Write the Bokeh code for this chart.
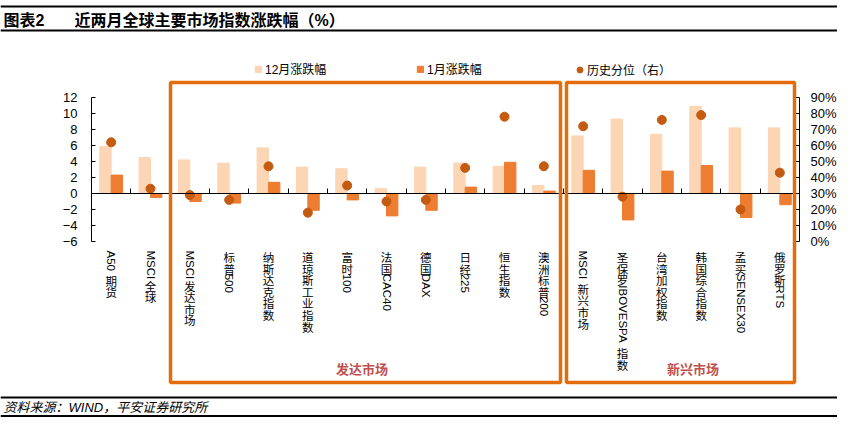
import math
from bokeh.plotting import figure
from bokeh.models import (Range1d, LinearAxis, FixedTicker, PrintfTickFormatter, ColumnDataSource,
                          LabelSet, Label, BoxAnnotation, Legend, LegendItem, CustomJSTickFormatter)
from bokeh.transform import dodge
from bokeh.core.properties import value
from bokeh.embed import file_html
from bokeh.resources import INLINE

# ---------------- data ----------------
categories = ["A50 期货", "MSCI全球", "MSCI发达市场", "标普500", "纳斯达克指数", "道琼斯工业指数",
              "富时100", "法国CAC40", "德国DAX", "日经225", "恒生指数", "澳洲标普200",
              "MSCI 新兴市场", "圣保罗IBOVESPA 指数", "台湾加权指数", "韩国综合指数", "孟买SENSEX30", "俄罗斯RTS"]
dec_change = [5.9, 4.5, 4.2, 3.8, 5.7, 3.3, 3.1, 0.6, 3.3, 3.8, 3.4, 1.0, 7.2, 9.3, 7.4, 10.9, 8.2, 8.2]
jan_change = [2.3, -0.5, -1.0, -1.2, 1.4, -2.1, -0.8, -2.8, -2.1, 0.8, 3.9, 0.3, 2.9, -3.3, 2.8, 3.5, -3.0, -1.4]
hist_pct = [62, 33, 29, 26, 47, 18, 35, 25, 26, 46, 78, 47, 72, 28, 76, 79, 20, 43]
left_ticks = [-6, -4, -2, 0, 2, 4, 6, 8, 10, 12]
right_ticks = [0, 10, 20, 30, 40, 50, 60, 70, 80, 90]
group_names = ["发达市场", "新兴市场"]
legend_labels = ["12月涨跌幅", "1月涨跌幅", "历史分位（右）"]
title_no = "图表2"
title_text = "近两月全球主要市场指数涨跌幅（%）"
source_text = "资料来源：WIND，平安证券研究所"

# ---------------- styling / geometry ----------------
C_LIGHT = "#FCD5B5"
C_DARK = "#ED7D31"
C_DOT = "#C55A11"
C_BOX = "#E46C0A"
C_GRP = "#C0504D"
LATIN = "Liberation Sans"
CJK = "Noto Sans CJK SC"
MIX = "Liberation Sans, Noto Sans CJK SC"

W, H = 837, 417
AX_L, AX_R, AX_T, AX_B = 91, 799, 97, 241      # plot area in pixels

n = len(categories)
pxu = (AX_R - AX_L) / n                         # pixels per category
lo, hi = left_ticks[0], left_ticks[-1]
pyu = (AX_B - AX_T) / (hi - lo)                 # pixels per unit (left)
rlo, rhi = right_ticks[0], right_ticks[-1]
pyr = (AX_B - AX_T) / (rhi - rlo)               # pixels per unit (right)


def dx(px):
    return (px - AX_L) / pxu


def dy(py):
    return hi - (py - AX_T) / pyu


idx = [i + 0.5 for i in range(n)]

p = figure(width=W, height=H, output_backend="svg", toolbar_location=None,
           x_range=Range1d(dx(0), dx(W)), y_range=Range1d(dy(H), dy(0)),
           min_border=0, min_border_left=0, min_border_right=0, min_border_top=0, min_border_bottom=0)
p.outline_line_color = None
p.xgrid.grid_line_color = None
p.ygrid.grid_line_color = None
p.background_fill_color = "white"
p.border_fill_color = "white"

p.extra_y_ranges = {"pct": Range1d(rlo - (H - AX_B) / pyr, rhi + AX_T / pyr)}

# left axis
ya = p.yaxis[0]
ya.fixed_location = 0
ya.bounds = (lo, hi)
ya.ticker = FixedTicker(ticks=left_ticks)
ya.major_tick_in = 4
ya.major_tick_out = 0
ya.minor_tick_line_color = None
ya.major_label_standoff = 14
ya.major_label_text_font = LATIN
ya.major_label_text_font_size = "13px"
ya.major_label_text_color = "#000000"
ya.axis_line_color = "#000000"
ya.major_tick_line_color = "#000000"

# right axis
ra = LinearAxis(y_range_name="pct", ticker=FixedTicker(ticks=right_ticks),
                formatter=PrintfTickFormatter(format="%d%%"))
ra.fixed_location = n
ra.bounds = (rlo, rhi)
ra.major_tick_in = 4
ra.major_tick_out = 0
ra.minor_tick_line_color = None
ra.major_label_standoff = 11
ra.major_label_text_font = LATIN
ra.major_label_text_font_size = "13px"
ra.major_label_text_color = "#000000"
ra.axis_line_color = "#000000"
ra.major_tick_line_color = "#000000"
p.add_layout(ra, "right")

# x axis at zero
xa = p.xaxis[0]
xa.fixed_location = 0
xa.bounds = (0, n)
xa.ticker = FixedTicker(ticks=list(range(n + 1)))
xa.formatter = CustomJSTickFormatter(code="return ''")
xa.major_tick_in = 5
xa.major_tick_out = 0
xa.minor_tick_line_color = None
xa.axis_line_color = "#000000"
xa.major_tick_line_color = "#000000"

src = ColumnDataSource(dict(x=idx, cat=categories, dec=dec_change, jan=jan_change, pct=hist_pct))
r_dec = p.vbar(x=dodge("x", -0.145), top="dec", bottom=0, width=0.29, source=src,
               fill_color=C_LIGHT, line_color=C_LIGHT)
r_jan = p.vbar(x=dodge("x", 0.145), top="jan", bottom=0, width=0.29, source=src,
               fill_color=C_DARK, line_color=C_DARK)
r_dot = p.scatter(x="x", y="pct", y_range_name="pct", source=src, size=9,
                  fill_color=C_DOT, line_color=C_DOT)

# legends
leg_style = dict(orientation="horizontal", padding=0, margin=0, border_line_color=None,
                 background_fill_alpha=0, label_text_font=MIX, label_text_font_size="12px",
                 label_text_color="#000000")
legend1 = Legend(items=[LegendItem(label=legend_labels[0], renderers=[r_dec]),
                        LegendItem(label=legend_labels[1], renderers=[r_jan])],
                 location=(254, H - 77), glyph_width=8, glyph_height=8, label_standoff=3,
                 label_width=140, label_height=14, spacing=11, **leg_style)
legend2 = Legend(items=[LegendItem(label=legend_labels[2], renderers=[r_dot])],
                 location=(572, H - 77.5), glyph_width=15, glyph_height=15, label_standoff=0,
                 label_height=14, **leg_style)
p.add_layout(legend1, "center")
p.add_layout(legend2, "center")

# category labels (vertical, CJK upright, latin rotated)
LW = {"M": .833, "S": .667, "C": .722, "I": .278, "A": .667, "D": .722, "X": .667, "B": .667,
      "O": .778, "V": .667, "E": .667, "P": .667, "N": .722, "R": .722, "T": .611, " ": .278}
FS_L = 11.5
FS_C = 11.5
PITCH = 11.6
cjk_rows = dict(x=[], y=[], t=[])
lat_rows = dict(x=[], y=[], t=[])
for i, lab in enumerate(categories):
    runs = []
    for ch in lab:
        if ord(ch) > 0x2E7F:
            runs.append(["c", ch])
        elif runs and runs[-1][0] == "l":
            runs[-1][1] += ch
        else:
            runs.append(["l", ch])
    cur = 250.0
    for kind, txt in runs:
        if kind == "c":
            cjk_rows["x"].append(idx[i]); cjk_rows["y"].append(dy(cur + PITCH / 2 + 0.6)); cjk_rows["t"].append(txt)
            cur += PITCH
        else:
            lead = len(txt) - len(txt.lstrip())
            core = txt.strip()
            cur += lead * LW[" "] * FS_L
            if core:
                lat_rows["x"].append(idx[i]); lat_rows["y"].append(dy(cur)); lat_rows["t"].append(core)
                cur += sum(LW.get(c, .556) for c in core) * FS_L
            cur += (len(txt.rstrip()) != len(txt)) * LW[" "] * FS_L

p.add_layout(LabelSet(x="x", y="y", text="t", source=ColumnDataSource(cjk_rows),
                      text_align="center", text_baseline="middle",
                      text_font=value(CJK), text_font_size=f"{FS_C}px", text_color="#000000"))
p.add_layout(LabelSet(x="x", y="y", text="t", source=ColumnDataSource(lat_rows),
                      angle=-math.pi / 2, text_align="left", text_baseline="middle",
                      text_font=value(LATIN), text_font_size=f"{FS_L}px", text_color="#000000"))

# group boxes
box_px = [(170, 560), (566, 794)]
for (l, r), name, lx in zip(box_px, group_names, [361.5, 692.5]):
    p.add_layout(BoxAnnotation(left=dx(l), right=dx(r), top=dy(82), bottom=dy(382),
                               fill_alpha=0, line_color=C_BOX, line_width=3.5, line_alpha=1))
    p.add_layout(Label(x=dx(lx), y=dy(367.5), text=name,
                       text_align="center", text_baseline="middle", text_font=CJK,
                       text_font_size="13px", text_font_style="bold", text_color=C_GRP))

# rules
for top, bot in [(5, 7), (29, 31), (396, 398), (414.5, 416.5)]:
    p.add_layout(BoxAnnotation(left=dx(0), right=dx(W), top=dy(top), bottom=dy(bot),
                               fill_color="#000000", fill_alpha=1, line_alpha=0))

# title & footer
p.add_layout(Label(x=dx(3), y=dy(19.5), text=title_no,
                   text_align="left", text_baseline="middle", text_font=MIX, text_font_size="16px",
                   text_font_style="bold", text_color="#000000"))
p.add_layout(Label(x=dx(74), y=dy(19.5), text=title_text,
                   text_align="left", text_baseline="middle", text_font=MIX, text_font_size="16px",
                   text_font_style="bold", text_color="#000000"))
p.add_layout(Label(x=dx(3), y=dy(406.5), text=source_text,
                   text_align="left", text_baseline="middle", text_font=MIX, text_font_size="13px",
                   text_font_style="italic", text_color="#000000"))

open("out.html", "w").write(file_html(p, INLINE))
